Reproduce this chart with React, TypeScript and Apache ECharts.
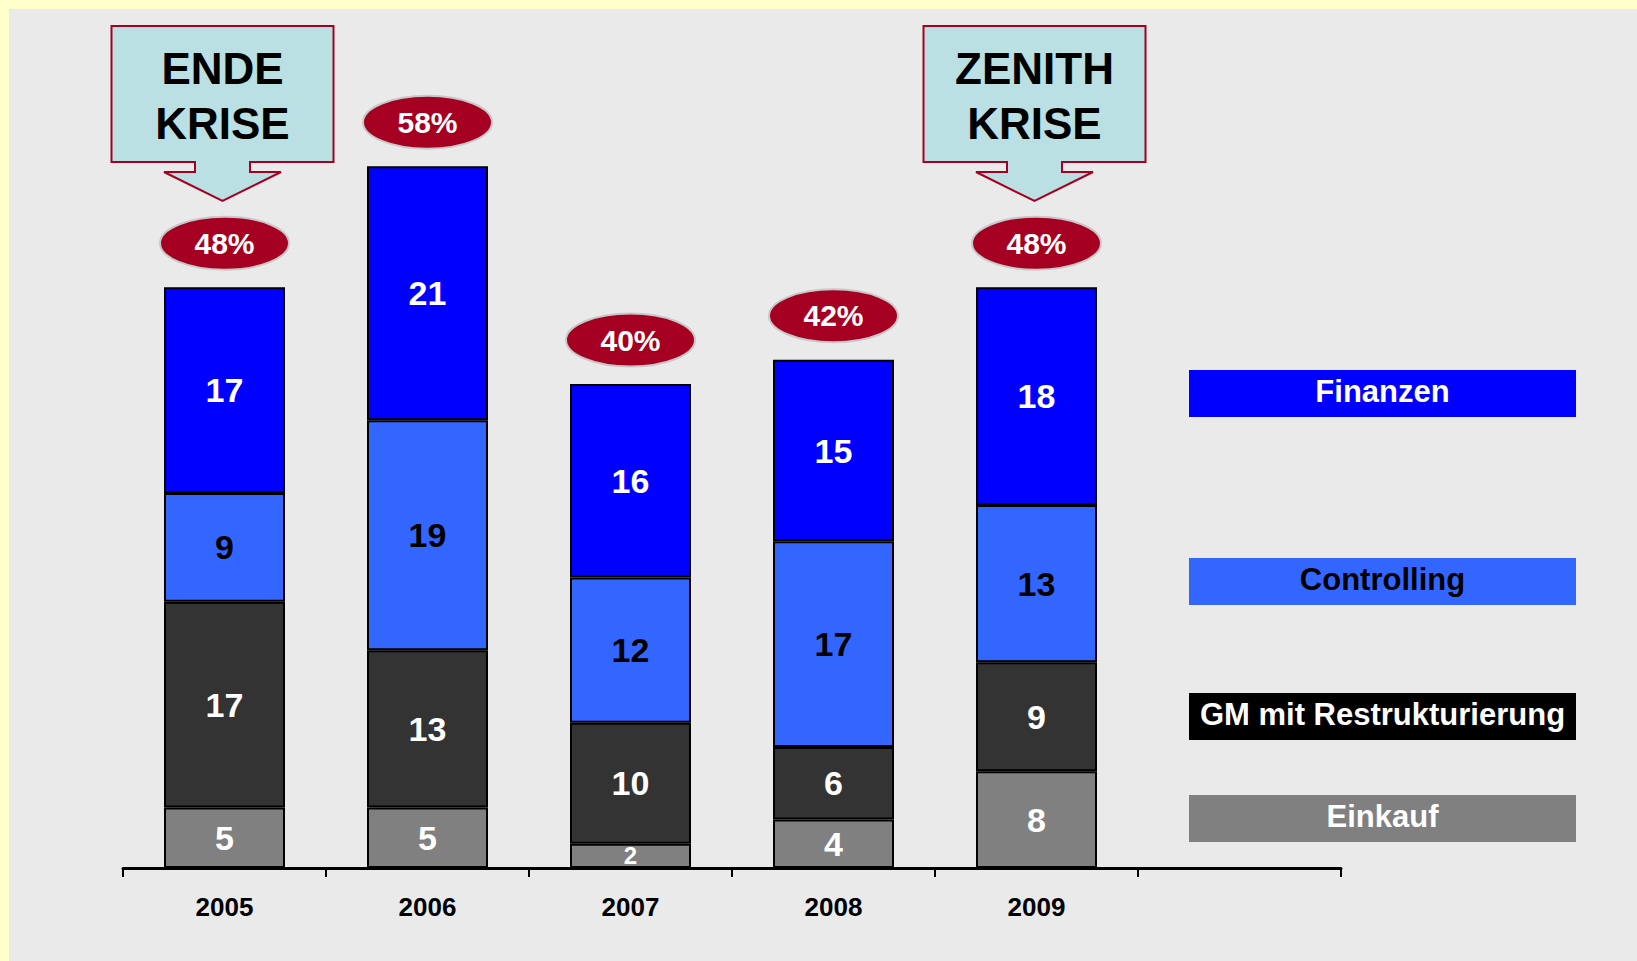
import React, { useEffect, useRef } from "react";
import * as echarts from "echarts";

const years = ["2005", "2006", "2007", "2008", "2009", ""];
const einkauf = [5, 5, 2, 4, 8];
const gm = [17, 13, 10, 6, 9];
const controlling = [9, 19, 12, 17, 13];
const finanzen = [17, 21, 16, 15, 18];
const shares = ["48%", "58%", "40%", "42%", "48%"];
const legendNames = ["Finanzen", "Controlling", "GM mit Restrukturierung", "Einkauf"];
const calloutIndex = [0, 4];
const calloutLines = [
  ["ENDE", "KRISE"],
  ["ZENITH", "KRISE"],
];

const FONT = '"Liberation Sans", Arial, Helvetica, sans-serif';
const totals = einkauf.map((v, i) => v + gm[i] + controlling[i] + finanzen[i]);

function barSeries(name: string, values: number[], fill: string, textColor: string) {
  return {
    name,
    type: "bar",
    stack: "total",
    barWidth: 121,
    data: values.map((v) => ({
      value: v,
      label: v < 3 ? { fontSize: 24 } : undefined,
    })),
    itemStyle: { color: fill, borderColor: "#000", borderWidth: 2 },
    label: {
      show: true,
      position: "inside",
      color: textColor,
      fontSize: 34,
      fontWeight: "bold",
      fontFamily: FONT,
    },
  };
}

export default function App() {
  const ref = useRef<HTMLDivElement>(null);
  useEffect(() => {
    if (!ref.current) return;
    const chart = echarts.init(ref.current, undefined, { renderer: "svg" });

    const legendColors = ["#0000FF", "#3366FF", "#000000", "#808080"];
    const legendText = ["#FFFFFF", "#000000", "#FFFFFF", "#FFFFFF"];
    const legendTop = [370, 558, 693, 795];

    const graphic: any[] = [];
    legendNames.forEach((n, i) => {
      graphic.push({
        type: "rect",
        shape: { x: 1189, y: legendTop[i], width: 387, height: 47 },
        style: { fill: legendColors[i] },
        z: 5,
      });
      graphic.push({
        type: "text",
        x: 1382.5,
        y: legendTop[i] + 21,
        style: {
          text: n,
          fill: legendText[i],
          font: `bold 31px ${FONT}`,
          align: "center",
          verticalAlign: "middle",
        },
        z: 6,
      });
    });

    chart.setOption({
      animation: false,
      backgroundColor: "transparent",
      grid: { left: 123, width: 1218, top: 142, height: 726 },
      xAxis: {
        type: "category",
        data: years,
        boundaryGap: true,
        axisLine: { lineStyle: { color: "#000", width: 3 } },
        axisTick: { show: true, length: 9, interval: 0, lineStyle: { color: "#000", width: 2 } },
        axisLabel: {
          interval: 0,
          margin: 26,
          color: "#000",
          fontSize: 26,
          fontWeight: "bold",
          fontFamily: FONT,
        },
        splitLine: { show: false },
      },
      yAxis: { type: "value", min: 0, max: 60, show: false },
      series: [
        barSeries("Einkauf", einkauf, "#808080", "#FFFFFF"),
        barSeries("GM mit Restrukturierung", gm, "#333333", "#FFFFFF"),
        barSeries("Controlling", controlling, "#3366FF", "#000000"),
        barSeries("Finanzen", finanzen, "#0000FF", "#FFFFFF"),
        {
          type: "custom",
          z: 10,
          clip: false,
          data: totals.map((t, i) => [i, t]),
          renderItem: (params: any, api: any) => {
            const p = api.coord([api.value(0), api.value(1)]);
            const cx = p[0];
            const cy = p[1] - 44;
            return {
              type: "group",
              children: [
                {
                  type: "ellipse",
                  shape: { cx, cy, rx: 64.5, ry: 26.5 },
                  style: { fill: "#A50021", stroke: "#C8C8C8", lineWidth: 2 },
                },
                {
                  type: "text",
                  style: {
                    text: shares[params.dataIndex],
                    x: cx,
                    y: cy,
                    align: "center",
                    verticalAlign: "middle",
                    fill: "#FFFFFF",
                    font: `bold 30px ${FONT}`,
                  },
                },
              ],
            };
          },
        },
        {
          type: "custom",
          z: 10,
          clip: false,
          data: calloutIndex.map((idx) => [idx, 0]),
          renderItem: (params: any, api: any) => {
            const p = api.coord([api.value(0), 0]);
            const cx = p[0] - 2;
            const pts = [
              [-111, 26],
              [111, 26],
              [111, 162],
              [27.5, 162],
              [27.5, 172],
              [58.5, 172],
              [0, 201],
              [-58.5, 172],
              [-27.5, 172],
              [-27.5, 162],
              [-111, 162],
            ].map((q) => [cx + q[0], q[1]]);
            const lines = calloutLines[params.dataIndex];
            return {
              type: "group",
              children: [
                {
                  type: "polygon",
                  shape: { points: pts },
                  style: { fill: "#BAE0E3", stroke: "#A50021", lineWidth: 2 },
                },
                {
                  type: "text",
                  style: {
                    text: lines[0],
                    x: cx,
                    y: 68,
                    align: "center",
                    verticalAlign: "middle",
                    fill: "#000",
                    font: `bold 44px ${FONT}`,
                  },
                },
                {
                  type: "text",
                  style: {
                    text: lines[1],
                    x: cx,
                    y: 123,
                    align: "center",
                    verticalAlign: "middle",
                    fill: "#000",
                    font: `bold 44px ${FONT}`,
                  },
                },
              ],
            };
          },
        },
      ],
      graphic,
    });
    return () => chart.dispose();
  }, []);

  return (
    <div
      ref={ref}
      style={{
        position: "fixed",
        left: 0,
        top: 0,
        width: 1637,
        height: 961,
        background:
          "linear-gradient(#EAEAEA, #EAEAEA) 9px 9px / 1628px 952px no-repeat, #FFFFCC",
      }}
    />
  );
}
